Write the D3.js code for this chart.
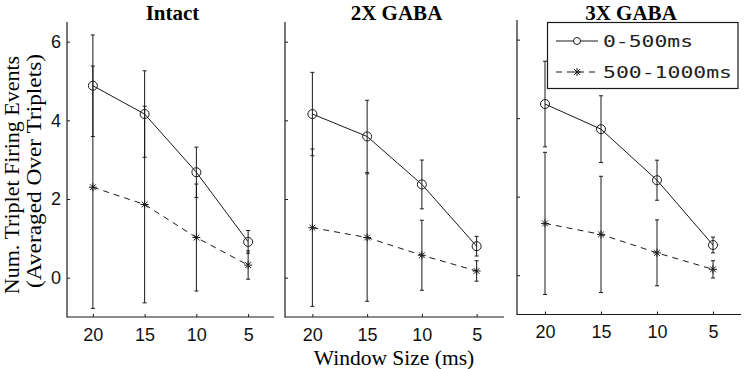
<!DOCTYPE html>
<html>
<head>
<meta charset="utf-8">
<script src="https://cdn.jsdelivr.net/npm/d3@7"></script>
<style>
  body { margin: 0; background: #fff; }
</style>
</head>
<body>
<div id="main"></div>
<script>
// data
const windows = [20, 15, 10, 5];
const panelTitles = ['Intact', '2X GABA', '3X GABA'];
const seriesNames = ['0-500ms', '500-1000ms'];
const yTicks = [0, 2, 4, 6];

// 0-500ms (circles), one row per panel
const earlyMean = [
  [4.88, 4.16, 2.68, 0.91],
  [4.16, 3.59, 2.37, 0.80],
  [4.36, 3.72, 2.42, 0.77]
];
const earlyErr = [
  [1.29, 1.10, 0.64, 0.29],
  [1.06, 0.92, 0.62, 0.25],
  [1.09, 0.85, 0.51, 0.20]
];
// 500-1000ms (stars)
const lateMean = [
  [2.30, 1.86, 1.02, 0.32],
  [1.27, 1.02, 0.57, 0.17],
  [1.32, 1.04, 0.57, 0.15]
];
const lateErr = [
  [3.08, 2.50, 1.36, 0.36],
  [2.00, 1.62, 0.89, 0.26],
  [1.81, 1.48, 0.84, 0.22]
];
// data

const W = 744, H = 369;
const ink = '#1a1a1a';
const serif = '"Liberation Serif", "Times New Roman", serif';

const svg = d3.select('#main').append('svg')
  .attr('width', W)
  .attr('height', H);

// panel boxes (left, right, top, bottom)
const panels = [
  { x0: 67, x1: 274, y0: 22, y1: 317 },
  { x0: 285, x1: 504, y0: 22, y1: 317 },
  { x0: 517, x1: 741, y0: 20, y1: 314.5 }
];

// matlab style '*' marker
const starPath = (r) => {
  const d = r * 0.72;
  return `M0,${-r}L0,${r}M${-r},0L${r},0M${-d},${-d}L${d},${d}M${-d},${d}L${d},${-d}`;
};

panels.forEach((p, pi) => {
  const x = d3.scaleLinear().domain([22.5, 2.5]).range([p.x0, p.x1]);
  const y = d3.scaleLinear().domain([-1, 6.5]).range([p.y1, p.y0]);

  const g = svg.append('g');

  // axes, ticks point inward like matlab
  const yAxis = g.append('g')
    .attr('transform', `translate(${p.x0},0)`)
    .call(d3.axisLeft(y).tickValues(yTicks).tickSize(-3).tickPadding(6)
      .tickFormat(pi === 0 ? d3.format('d') : ''));
  const xAxis = g.append('g')
    .attr('transform', `translate(0,${p.y1})`)
    .call(d3.axisBottom(x).tickValues(windows).tickSize(-3).tickPadding(11));

  [xAxis, yAxis].forEach(a => {
    a.select('.domain').remove();
    a.selectAll('line').attr('stroke', ink);
    a.selectAll('text')
      .attr('fill', '#111')
      .style('font-family', '"Liberation Sans", Arial, sans-serif')
      .style('font-size', '18px');
  });
  g.append('line')
    .attr('x1', p.x0).attr('x2', p.x0)
    .attr('y1', p.y0).attr('y2', p.y1 + 0.5)
    .attr('stroke', ink).attr('stroke-width', 1.2);
  g.append('line')
    .attr('x1', p.x0).attr('x2', p.x1)
    .attr('y1', p.y1).attr('y2', p.y1)
    .attr('stroke', ink).attr('stroke-width', 1.2);

  // title
  g.append('text')
    .attr('x', (p.x0 + p.x1) / 2 + 2)
    .attr('y', 19.5)
    .attr('text-anchor', 'middle')
    .style('font-family', serif)
    .style('font-weight', 'bold')
    .style('font-size', '21px')
    .attr('fill', '#000')
    .text(panelTitles[pi]);

  const series = [
    { mean: earlyMean[pi], err: earlyErr[pi], dash: null, marker: 'circle' },
    { mean: lateMean[pi], err: lateErr[pi], dash: '6,5', marker: 'star' }
  ];

  series.forEach(s => {
    const pts = windows.map((w, i) => ({ w, m: s.mean[i], e: s.err[i] }));

    // error bars
    const eb = g.append('g').selectAll('g').data(pts).enter().append('g')
      .attr('stroke', ink).attr('stroke-width', 1);
    eb.append('line')
      .attr('x1', d => x(d.w)).attr('x2', d => x(d.w))
      .attr('y1', d => y(d.m - d.e)).attr('y2', d => y(d.m + d.e));
    [-1, 1].forEach(sg => {
      eb.append('line')
        .attr('x1', d => x(d.w) - 2).attr('x2', d => x(d.w) + 2)
        .attr('y1', d => y(d.m + sg * d.e)).attr('y2', d => y(d.m + sg * d.e));
    });

    // line
    g.append('path')
      .datum(pts)
      .attr('fill', 'none')
      .attr('stroke', ink)
      .attr('stroke-width', 1)
      .attr('stroke-dasharray', s.dash)
      .attr('d', d3.line().x(d => x(d.w)).y(d => y(d.m)));

    // markers
    if (s.marker === 'circle') {
      g.append('g').selectAll('circle').data(pts).enter().append('circle')
        .attr('cx', d => x(d.w)).attr('cy', d => y(d.m)).attr('r', 4.5)
        .attr('fill', 'none').attr('stroke', ink).attr('stroke-width', 1);
    } else {
      g.append('g').selectAll('path').data(pts).enter().append('path')
        .attr('transform', d => `translate(${x(d.w)},${y(d.m)})`)
        .attr('d', starPath(4))
        .attr('fill', 'none').attr('stroke', ink).attr('stroke-width', 1);
    }
  });
});

// axis labels
svg.append('text')
  .attr('x', 394)
  .attr('y', 365)
  .attr('text-anchor', 'middle')
  .style('font-family', serif)
  .style('font-size', '21.5px')
  .text('Window Size (ms)');

svg.append('text')
  .attr('transform', 'translate(18.5,175) rotate(-90)')
  .attr('text-anchor', 'middle')
  .style('font-family', serif)
  .style('font-size', '22px')
  .text('Num. Triplet Firing Events');

svg.append('text')
  .attr('transform', 'translate(40.5,171) rotate(-90)')
  .attr('text-anchor', 'middle')
  .style('font-family', serif)
  .style('font-size', '22px')
  .attr('textLength', 234)
  .attr('lengthAdjust', 'spacingAndGlyphs')
  .text('(Averaged Over Triplets)');

// legend
const lg = svg.append('g');
lg.append('rect')
  .attr('x', 547.5).attr('y', 22.5)
  .attr('width', 190.5).attr('height', 66)
  .attr('fill', '#fff').attr('stroke', ink).attr('stroke-width', 1.2);

const legendRows = [
  { name: seriesNames[0], dash: null, marker: 'circle', y: 41 },
  { name: seriesNames[1], dash: '6,5', marker: 'star', y: 72 }
];
legendRows.forEach(r => {
  lg.append('line')
    .attr('x1', 556).attr('x2', 598)
    .attr('y1', r.y).attr('y2', r.y)
    .attr('stroke', ink).attr('stroke-dasharray', r.dash);
  if (r.marker === 'circle') {
    lg.append('circle').attr('cx', 577).attr('cy', r.y).attr('r', 3.5)
      .attr('fill', '#fff').attr('stroke', ink);
  } else {
    lg.append('path').attr('transform', `translate(577,${r.y})`)
      .attr('d', starPath(4)).attr('fill', 'none').attr('stroke', ink);
  }
  lg.append('text')
    .attr('x', 603).attr('y', r.y + 6)
    .style('font-family', '"DejaVu Sans Mono", monospace')
    .style('font-size', '16px')
    .attr('fill', '#222')
    .attr('textLength', r.name.length * 13 - 1)
    .attr('lengthAdjust', 'spacingAndGlyphs')
    .text(r.name);
});
</script>
</body>
</html>
